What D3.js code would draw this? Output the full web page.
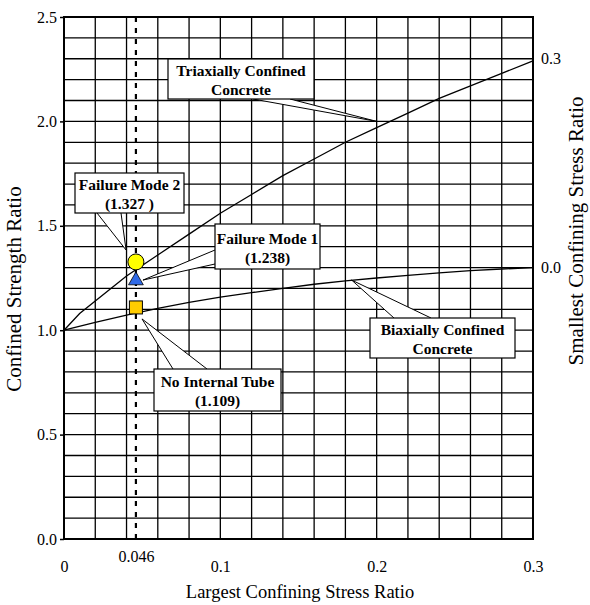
<!DOCTYPE html>
<html>
<head>
<meta charset="utf-8">
<script src="https://cdn.jsdelivr.net/npm/d3@7"></script>
<style>
  body { margin: 0; background: #fff; }
  text { font-family: "Liberation Serif", "Times New Roman", serif; fill: #000; }
</style>
</head>
<body>
<div id="chart"></div>
<script>
// curves
var triaxial_x = [0, 0.01, 0.02, 0.03, 0.04, 0.05, 0.06, 0.08, 0.10, 0.12, 0.14, 0.16, 0.18, 0.20, 0.22, 0.24, 0.26, 0.28, 0.30];
var triaxial_y = [1.00, 1.08, 1.14, 1.20, 1.26, 1.31, 1.36, 1.46, 1.56, 1.65, 1.74, 1.82, 1.90, 1.97, 2.04, 2.11, 2.17, 2.23, 2.29];
var biaxial_x = [0, 0.02, 0.04, 0.06, 0.08, 0.10, 0.12, 0.14, 0.16, 0.18, 0.20, 0.22, 0.24, 0.26, 0.28, 0.30];
var biaxial_y = [1.00, 1.037, 1.072, 1.104, 1.133, 1.158, 1.180, 1.200, 1.220, 1.236, 1.250, 1.263, 1.275, 1.285, 1.293, 1.300];

// the three test points at x = 0.046
var point_names = ["Failure Mode 2", "Failure Mode 1", "No Internal Tube"];
var point_values = [1.327, 1.238, 1.109];
var point_x = 0.046;

var x_ticks = [0, 0.1, 0.2, 0.3];
var x_tick_labels = ["0", "0.1", "0.2", "0.3"];
var y_ticks = [0, 0.5, 1.0, 1.5, 2.0, 2.5];
var right_tick_pos = [1.3, 2.3];
var right_tick_labels = ["0.0", "0.3"];

var margin = {top: 17, right: 57, bottom: 66, left: 64},
    width = 590 - margin.left - margin.right,
    height = 605 - margin.top - margin.bottom;

var svg = d3.select("#chart").append("svg")
    .attr("width", 590)
    .attr("height", 605);

var g = svg.append("g")
    .attr("transform", "translate(" + margin.left + "," + margin.top + ")");

var x = d3.scaleLinear().domain([0, 0.3]).range([0, width]);
var y = d3.scaleLinear().domain([0, 2.5]).range([height, 0]);

// grid
g.append("g").selectAll("line")
    .data(d3.range(0, 16).map(function(i) { return i * 0.02; }))
    .enter().append("line")
    .attr("x1", function(d) { return x(d); })
    .attr("x2", function(d) { return x(d); })
    .attr("y1", 0).attr("y2", height)
    .attr("stroke", "#000").attr("stroke-width", 1.3);
g.append("g").selectAll("line")
    .data(d3.range(0, 26).map(function(i) { return i * 0.1; }))
    .enter().append("line")
    .attr("y1", function(d) { return y(d); })
    .attr("y2", function(d) { return y(d); })
    .attr("x1", 0).attr("x2", width)
    .attr("stroke", "#000").attr("stroke-width", 1.3);

g.append("rect")
    .attr("width", width).attr("height", height)
    .attr("fill", "none").attr("stroke", "#000").attr("stroke-width", 2);

// dotted line at 0.046
g.append("line")
    .attr("x1", x(point_x)).attr("x2", x(point_x))
    .attr("y1", 0).attr("y2", height)
    .attr("stroke", "#000").attr("stroke-width", 2.2)
    .attr("stroke-dasharray", "5,6");

// axes
var y_axis = g.append("g")
    .call(d3.axisLeft(y).tickValues(y_ticks).tickFormat(d3.format(".1f")).tickSize(4).tickPadding(3));
var x_axis = g.append("g")
    .attr("transform", "translate(0," + height + ")")
    .call(d3.axisBottom(x).tickValues(x_ticks)
        .tickFormat(function(d, i) { return x_tick_labels[i]; })
        .tickSize(0).tickPadding(22));
var x_axis2 = g.append("g")
    .attr("transform", "translate(0," + height + ")")
    .call(d3.axisBottom(x).tickValues([point_x]).tickFormat(d3.format(".3f")).tickSize(0).tickPadding(12));
var r_axis = g.append("g")
    .attr("transform", "translate(" + width + ",0)")
    .call(d3.axisRight(y).tickValues(right_tick_pos)
        .tickFormat(function(d, i) { return right_tick_labels[i]; })
        .tickSize(0).tickPadding(8));

[y_axis, x_axis, x_axis2, r_axis].forEach(function(a) {
    a.attr("font-family", null);
    a.select(".domain").remove();
    a.selectAll("text").style("font-size", "16px").style("font-family", "Liberation Serif");
    a.selectAll("line").attr("stroke", "#000").attr("stroke-width", 1.5);
});

// curves
var line = d3.line()
    .x(function(d) { return x(d[0]); })
    .y(function(d) { return y(d[1]); });

g.append("path")
    .datum(d3.zip(triaxial_x, triaxial_y))
    .attr("d", line)
    .attr("fill", "none").attr("stroke", "#000").attr("stroke-width", 1.3);
g.append("path")
    .datum(d3.zip(biaxial_x, biaxial_y))
    .attr("d", line)
    .attr("fill", "none").attr("stroke", "#000").attr("stroke-width", 1.3);

// callouts: box and wedge base in pixels of the plot, tip in data units
var callouts = [
    {lines: ["Triaxially Confined", "Concrete"], box: [104, 42, 250, 82], base: [[189, 82], [226, 82]], tip: [0.2, 2.0]},
    {lines: [point_names[0], "(" + point_values[0] + " )"], box: [11, 156, 120, 196], base: [[33, 196], [57, 196]], tip: [0.0397, 1.384]},
    {lines: [point_names[1], "(" + point_values[1] + ")"], box: [151, 207, 256, 252], base: [[151, 233], [151, 247]], tip: [0.0505, 1.240]},
    {lines: [point_names[2], "(" + point_values[2] + ")"], box: [90, 352, 217, 394], base: [[109, 352], [143, 352]], tip: [0.0499, 1.054]},
    {lines: ["Biaxially Confined", "Concrete"], box: [306, 301, 451, 341], base: [[330, 301], [367, 301]], tip: [0.184, 1.24]}
];

var co = g.append("g").selectAll("g").data(callouts).enter().append("g");
co.append("path")
    .attr("d", function(d) {
        return "M" + d.base[0][0] + "," + d.base[0][1] +
            "L" + x(d.tip[0]) + "," + y(d.tip[1]) +
            "L" + d.base[1][0] + "," + d.base[1][1];
    })
    .attr("fill", "#fff").attr("stroke", "#000").attr("stroke-width", 1);
co.append("rect")
    .attr("x", function(d) { return d.box[0]; })
    .attr("y", function(d) { return d.box[1]; })
    .attr("width", function(d) { return d.box[2] - d.box[0]; })
    .attr("height", function(d) { return d.box[3] - d.box[1]; })
    .attr("fill", "#fff").attr("stroke", "#000").attr("stroke-width", 1.2);
co.each(function(d) {
    var h = d.box[3] - d.box[1];
    var top = d.box[1] + (h - 40) / 2;
    d3.select(this).selectAll("text").data(d.lines).enter().append("text")
        .attr("x", (d.box[0] + d.box[2]) / 2)
        .attr("y", function(t, i) { return top + 17 + i * 19; })
        .attr("text-anchor", "middle")
        .style("font-size", "15.5px")
        .style("font-weight", "bold")
        .text(function(t) { return t; });
});

// markers
var mk = g.append("g");
mk.append("circle")
    .attr("cx", x(point_x)).attr("cy", y(point_values[0])).attr("r", 8)
    .attr("fill", "#ffff00").attr("stroke", "#000").attr("stroke-width", 1);
mk.append("path")
    .attr("transform", "translate(" + x(point_x) + "," + y(point_values[1]) + ")")
    .attr("d", d3.symbol().type(d3.symbolTriangle).size(95))
    .attr("fill", "#2f6ae8").attr("stroke", "#000").attr("stroke-width", 0.8);
mk.append("rect")
    .attr("x", x(point_x) - 6.5).attr("y", y(point_values[2]) - 6.5)
    .attr("width", 13).attr("height", 13)
    .attr("fill", "#ffcc00").attr("stroke", "#000").attr("stroke-width", 1);

// axis titles
svg.append("text")
    .attr("x", 300).attr("y", 598)
    .attr("text-anchor", "middle")
    .style("font-size", "18.5px")
    .text("Largest Confining Stress Ratio");
svg.append("text")
    .attr("transform", "translate(21,289) rotate(-90)")
    .attr("text-anchor", "middle")
    .style("font-size", "21px")
    .text("Confined Strength Ratio");
svg.append("text")
    .attr("transform", "translate(583,231) rotate(-90)")
    .attr("text-anchor", "middle")
    .style("font-size", "21px")
    .text("Smallest Confining Stress Ratio");
</script>
</body>
</html>
